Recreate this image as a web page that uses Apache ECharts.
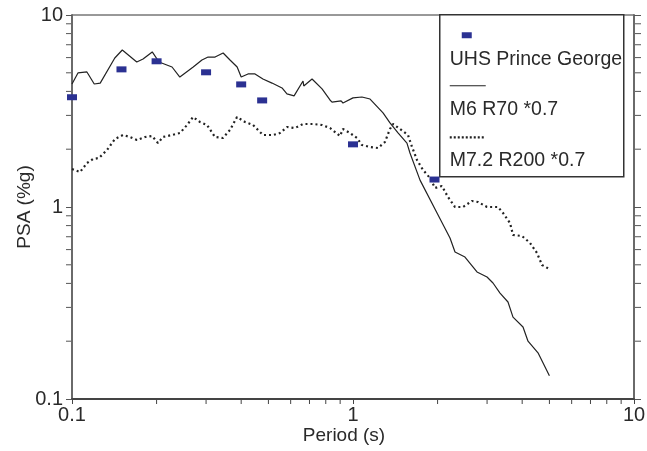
<!DOCTYPE html>
<html>
<head>
<meta charset="utf-8">
<script src="https://cdn.jsdelivr.net/npm/echarts@6/dist/echarts.min.js"></script>
<style>html,body{margin:0;padding:0;background:#fff}#c{width:647px;height:451px}</style>
</head>
<body>
<div id="c"></div>
<script>
// ---- data ----
const periodSolid = [0.1,0.105,0.113,0.12,0.126,0.142,0.151,0.17,0.179,0.193,0.204,0.227,0.242,0.27,0.29,0.305,0.323,0.345,0.365,0.387,0.4,0.423,0.448,0.478,0.515,0.559,0.582,0.617,0.664,0.668,0.715,0.776,0.828,0.842,0.907,0.921,1.0,1.076,1.15,1.279,1.354,1.446,1.556,1.595,1.732,1.991,2.214,2.307,2.503,2.762,2.999,3.149,3.336,3.561,3.71,4.027,4.196,4.554,5.0];
const psaSolid = [4.37,4.99,5.05,4.37,4.42,5.97,6.57,5.69,5.90,6.42,5.69,5.36,4.75,5.36,5.83,6.04,6.04,6.34,5.83,5.36,4.75,4.93,4.93,4.64,4.42,4.17,3.88,3.79,4.53,4.27,4.64,4.12,3.61,3.52,3.57,3.48,3.70,3.74,3.65,3.09,2.74,2.43,2.15,1.91,1.38,0.931,0.690,0.583,0.549,0.459,0.432,0.402,0.356,0.320,0.267,0.237,0.200,0.174,0.132];

const periodDotted = [0.1,0.1068,0.1131,0.1188,0.1248,0.1332,0.1422,0.1519,0.1608,0.1703,0.1819,0.1927,0.2023,0.2108,0.2269,0.2423,0.2567,0.2696,0.2854,0.3023,0.3228,0.3446,0.365,0.3866,0.4128,0.4407,0.4783,0.5191,0.5497,0.5824,0.6218,0.6638,0.7205,0.7757,0.8282,0.899,0.9214,0.9756,1.033,1.076,1.15,1.227,1.299,1.354,1.388,1.47,1.569,1.622,1.69,1.775,1.879,1.958,2.073,2.178,2.307,2.463,2.652,2.785,2.999,3.281,3.419,3.621,3.71,3.995,4.265,4.516,4.706,5.0];
const psaDotted = [1.577,1.521,1.695,1.778,1.8,1.981,2.261,2.371,2.315,2.234,2.315,2.343,2.154,2.315,2.371,2.429,2.674,2.943,2.771,2.674,2.315,2.288,2.518,2.943,2.771,2.674,2.371,2.371,2.429,2.61,2.579,2.706,2.706,2.674,2.579,2.343,2.548,2.429,2.288,2.103,2.054,2.029,2.181,2.548,2.706,2.548,2.371,2.054,1.757,1.558,1.416,1.256,1.286,1.127,1.0,1.0,1.075,1.062,1.0,1.0,0.931,0.825,0.715,0.706,0.65,0.576,0.499,0.475];

const uhsPeriod = [0.1,0.15,0.2,0.3,0.4,0.475,1.0,1.95];
const uhsPsa = [3.73,5.21,5.74,5.03,4.35,3.59,2.12,1.39];

const seriesNames = ['UHS Prince George','M6 R70 *0.7','M7.2 R200 *0.7'];
const axisMin = 0.1, axisMax = 10;
const minorTickValues = [0.2,0.3,0.4,0.5,0.6,0.7,0.8,0.9,2,3,4,5,6,7,8,9];
const xTitle = 'Period (s)', yTitle = 'PSA (%g)';

// ---- chart ----
const FONT = 'Liberation Sans, Arial, sans-serif';
const TXT = '#2a2a2a';
const chart = echarts.init(document.getElementById('c'), null, {renderer:'canvas'});

function zip(a,b){ return a.map((v,i)=>[v,b[i]]); }

function tickLine(x1,y1,x2,y2,color){
  return {type:'line', shape:{x1,y1,x2,y2}, style:{stroke:color, lineWidth:1}};
}

const option = {
  animation:false,
  backgroundColor:'#fff',
  grid:{left:72, top:15, right:13, bottom:52, outerBoundsMode:'none', containLabel:false,
        show:true, borderColor:'#333', borderWidth:1, backgroundColor:'transparent'},
  xAxis:{
    type:'log', logBase:10, min:axisMin, max:axisMax,
    name:xTitle, nameLocation:'middle', nameGap:27, nameMoveOverlap:false,
    nameTextStyle:{fontFamily:FONT, fontSize:19, color:TXT, padding:[0,18,0,0]},
    axisLine:{show:true, lineStyle:{color:'#444', width:2}},
    axisTick:{show:true, inside:false, length:5, lineStyle:{color:'#444'}},
    axisLabel:{fontFamily:FONT, fontSize:20, color:TXT, margin:6},
    splitLine:{show:false}, minorTick:{show:false}
  },
  yAxis:[{
    type:'log', logBase:10, min:axisMin, max:axisMax, position:'left',
    name:yTitle, nameLocation:'middle', nameGap:38, nameRotate:90, nameMoveOverlap:false,
    nameTextStyle:{fontFamily:FONT, fontSize:19, color:TXT},
    axisLine:{show:true, lineStyle:{color:'#6a6a6a', width:2}},
    axisTick:{show:true, inside:false, length:6, lineStyle:{color:'#555'}},
    axisLabel:{fontFamily:FONT, fontSize:20, color:TXT, margin:9},
    splitLine:{show:false}
  },{
    type:'log', logBase:10, min:axisMin, max:axisMax, position:'right',
    axisLine:{show:true, lineStyle:{color:'#6a6a6a', width:2}},
    axisTick:{show:true, inside:false, length:7, lineStyle:{color:'#555'}},
    axisLabel:{show:false},
    splitLine:{show:false}
  }],
  series:[
    {
      name:seriesNames[1], type:'line', data:zip(periodSolid, psaSolid),
      showSymbol:false, symbol:'none', smooth:false,
      lineStyle:{color:'#222', width:1.2}, z:3
    },
    {
      name:seriesNames[2], type:'line', data:zip(periodDotted, psaDotted),
      showSymbol:false, symbol:'none', smooth:false,
      lineStyle:{color:'#222', width:2.2, type:[2,3], cap:'butt'}, z:3
    },
    {
      name:seriesNames[0], type:'scatter', data:zip(uhsPeriod, uhsPsa),
      symbol:'rect', symbolSize:[10,6], itemStyle:{color:'#2b3192', opacity:1}, z:4
    },
    {
      name:'yMinorTicks', type:'custom', silent:true, clip:false, z:5,
      data:minorTickValues.map(v=>[axisMin, v]),
      renderItem:function(params, api){
        const v = api.value(1);
        const l = api.coord([axisMin, v]);
        const r = api.coord([axisMax, v]);
        return {type:'group', children:[
          tickLine(l[0]-6, l[1], l[0]-1, l[1], '#555'),
          tickLine(r[0]+1, r[1], r[0]+7, r[1], '#555')
        ]};
      }
    },
    {
      name:'xMinorTicks', type:'custom', silent:true, clip:false, z:5,
      data:minorTickValues.map(v=>[v, axisMin]),
      renderItem:function(params, api){
        const v = api.value(0);
        const b = api.coord([v, axisMin]);
        return tickLine(b[0], b[1]+1, b[0], b[1]+5, '#444');
      }
    }
  ],
  graphic:[{
    type:'group', left:439, top:14, z:100,
    children:[
      {type:'rect', shape:{x:0, y:0, width:184, height:162}, style:{fill:'#fff', stroke:'#333', lineWidth:1.5}},
      {type:'rect', shape:{x:22, y:17.5, width:10, height:6}, style:{fill:'#2b3192'}},
      {type:'text', x:10, y:44.7, style:{text:seriesNames[0], fontFamily:FONT, fontSize:19.5, fill:TXT, textVerticalAlign:'middle'}},
      {type:'line', shape:{x1:10, y1:71, x2:46, y2:71}, style:{stroke:'#222', lineWidth:1.2}},
      {type:'text', x:10, y:95, style:{text:seriesNames[1], fontFamily:FONT, fontSize:19.5, fill:TXT, textVerticalAlign:'middle'}},
      {type:'line', shape:{x1:10, y1:122.7, x2:44, y2:122.7}, style:{stroke:'#222', lineWidth:2.2, lineDash:[2,2]}},
      {type:'text', x:10, y:146.3, style:{text:seriesNames[2], fontFamily:FONT, fontSize:19.5, fill:TXT, textVerticalAlign:'middle'}}
    ]
  }]
};
chart.setOption(option);
</script>
</body>
</html>
